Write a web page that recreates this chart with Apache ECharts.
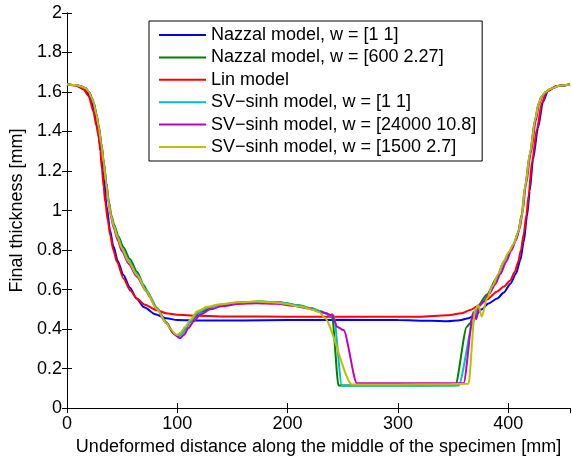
<!DOCTYPE html>
<html>
<head>
<meta charset="utf-8">
<script src="https://cdn.jsdelivr.net/npm/echarts@6.0.0/dist/echarts.min.js"></script>
<style>
html, body { margin: 0; padding: 0; background: #fff; }
#main { width: 572px; height: 461px; }
</style>
</head>
<body>
<div id="main"></div>
<script>
// series names (legend order)
var names = ['Nazzal model, w = [1 1]', 'Nazzal model, w = [600 2.27]', 'Lin model',
    'SV\u2212sinh model, w = [1 1]', 'SV\u2212sinh model, w = [24000 10.8]', 'SV\u2212sinh model, w = [1500 2.7]'];
var colors = ['#0000ff', '#008000', '#ff0000', '#00bfbf', '#bf00bf', '#bfbf00'];

// [distance mm, thickness mm]
var nazzal11 = [[0,1.638],[8,1.634],[14,1.622],[18,1.6],[21,1.57],[24,1.52],[27,1.44],[30,1.33],[33,1.18],[36,1.02],[39,0.9],[42,0.82],[46,0.745],[51,0.675],[57,0.61],[63,0.555],[70,0.51],[80,0.475],[90,0.455],[100,0.446],[120,0.443],[160,0.444],[200,0.446],[250,0.447],[300,0.446],[330,0.442],[345,0.44],[356,0.445],[364,0.455],[370,0.47],[376,0.5],[382,0.53],[390,0.555],[396,0.585],[402,0.63],[407,0.68],[411,0.75],[414,0.84],[417,0.97],[419.5,1.1],[422.5,1.26],[427,1.42],[431.5,1.55],[436,1.605],[444,1.63],[456,1.638]];

var nazzal600 = [[0,1.638],[8,1.635],[13,1.628],[16.6,1.62],[20,1.6],[22.5,1.57],[24.3,1.543],[26.7,1.488],[28.8,1.425],[31.2,1.34],[33.4,1.244],[35.7,1.14],[38,1.045],[40.3,0.975],[42.7,0.93],[46.5,0.87],[51,0.815],[57,0.755],[63.4,0.69],[69.4,0.625],[75,0.565],[81.6,0.505],[90,0.435],[96.6,0.38],[99.5,0.367],[103,0.38],[107,0.405],[111.8,0.437],[120.8,0.487],[136,0.521],[157,0.535],[175,0.539],[193,0.536],[210,0.52],[222,0.505],[230,0.49],[235,0.48],[238,0.468],[240.2,0.47],[246.2,0.114],[300,0.114],[352,0.116],[362.5,0.412],[365.5,0.43],[369,0.48],[373,0.521],[380.7,0.575],[389.7,0.66],[395.7,0.74],[401,0.79],[405,0.83],[409,0.89],[412.2,0.98],[415.2,1.12],[419.7,1.29],[424.3,1.46],[427.5,1.54],[430.5,1.58],[434,1.6],[438,1.615],[446,1.632],[456,1.638]];

var lin = [[0,1.638],[8,1.633],[15,1.613],[19.6,1.58],[24,1.5],[26.5,1.43],[28.7,1.378],[30.2,1.3],[31.7,1.21],[33.2,1.12],[34.7,1.042],[37,0.95],[39.2,0.874],[42,0.8],[45.3,0.74],[51.3,0.655],[57.4,0.595],[63.4,0.555],[70,0.525],[81.6,0.495],[90,0.48],[100,0.472],[118,0.467],[150,0.464],[200,0.463],[284,0.462],[320,0.463],[345,0.47],[358,0.48],[365.5,0.496],[372,0.515],[380.7,0.55],[390,0.59],[396,0.615],[401.8,0.645],[406,0.69],[409,0.74],[411.5,0.8],[414,0.88],[416.5,0.98],[418.4,1.075],[421.5,1.244],[426,1.412],[430.5,1.546],[435,1.605],[444,1.63],[456,1.638]];

var sv11 = [[0,1.638],[8,1.635],[13,1.628],[16.6,1.62],[20,1.6],[22.5,1.57],[24.2,1.545],[26.6,1.49],[28.7,1.427],[31.1,1.34],[33.3,1.244],[35.6,1.14],[37.8,1.043],[40.1,0.972],[42.4,0.926],[46.2,0.865],[50,0.81],[56,0.745],[63.4,0.678],[72,0.598],[81.6,0.505],[90,0.43],[96,0.382],[101,0.36],[104,0.372],[108,0.405],[112,0.44],[118,0.48],[127,0.508],[139,0.522],[155,0.533],[175,0.538],[193,0.535],[210,0.52],[222,0.505],[230,0.49],[235,0.48],[238,0.468],[241.7,0.47],[249.2,0.114],[300,0.114],[355,0.115],[368.5,0.437],[372,0.5],[376,0.53],[380.7,0.56],[386,0.62],[391,0.675],[395.7,0.735],[400,0.78],[404.8,0.83],[409,0.89],[412.4,0.975],[415.4,1.125],[419.9,1.293],[424.5,1.46],[427.5,1.54],[430.5,1.58],[434,1.6],[438,1.615],[446,1.632],[456,1.638]];

var sv24000 = [[0,1.638],[8,1.635],[13,1.628],[16.6,1.62],[20,1.6],[22.5,1.57],[24.1,1.546],[26.5,1.49],[28.6,1.428],[31,1.34],[33.2,1.244],[35.5,1.14],[37.7,1.042],[40,0.965],[42.2,0.915],[46,0.85],[49.8,0.795],[56,0.73],[63.4,0.665],[72,0.59],[81.6,0.5],[90,0.43],[97,0.375],[102.5,0.353],[106,0.37],[110,0.405],[115,0.44],[121,0.475],[130,0.5],[140,0.515],[155,0.527],[172,0.531],[190,0.528],[205,0.518],[218,0.505],[229.6,0.487],[235.7,0.479],[238.7,0.47],[240.5,0.475],[242,0.45],[244.7,0.412],[250.7,0.395],[262.8,0.126],[300,0.126],[359.5,0.126],[368.5,0.487],[371,0.45],[374,0.52],[378,0.54],[383,0.58],[388,0.625],[393,0.68],[398,0.74],[403,0.8],[407,0.85],[410.5,0.91],[413,0.99],[416,1.13],[420.5,1.29],[425,1.455],[428,1.54],[431,1.58],[434.5,1.6],[438.5,1.615],[446,1.632],[456,1.638]];

var sv1500 = [[0,1.638],[8,1.635],[13,1.628],[16.6,1.62],[20,1.6],[22.5,1.57],[24.1,1.546],[26.5,1.49],[28.6,1.428],[31,1.34],[33.2,1.244],[35.5,1.14],[37.7,1.042],[40,0.97],[42.2,0.924],[46,0.862],[49.8,0.807],[56,0.74],[63.4,0.672],[72,0.59],[81.6,0.5],[90,0.43],[94,0.4],[98,0.375],[100,0.37],[103,0.38],[107,0.41],[112,0.448],[118,0.49],[127,0.513],[139,0.526],[155,0.536],[172,0.539],[185,0.536],[196,0.53],[211.5,0.514],[223.5,0.497],[229,0.485],[233,0.46],[258.3,0.12],[300,0.12],[340,0.121],[364,0.123],[370,0.5],[373,0.52],[376,0.462],[380.7,0.555],[386,0.62],[391,0.68],[395.7,0.74],[400,0.785],[404.8,0.83],[409,0.89],[412.4,0.974],[415.4,1.126],[419.9,1.294],[424.5,1.462],[427.5,1.54],[430.5,1.58],[434,1.6],[438,1.615],[446,1.632],[456,1.638]];

var allData = [nazzal11, nazzal600, lin, sv11, sv24000, sv1500];

var font = 'Liberation Sans, Arial, Helvetica, sans-serif';
var myChart = echarts.init(document.getElementById('main'));

myChart.setOption({
    animation: false,
    backgroundColor: '#fff',
    grid: { left: 67, right: 2, top: 13, bottom: 51 },
    legend: {
        orient: 'vertical',
        left: 149,
        top: 21,
        padding: [5, 6, 5, 10],
        icon: 'rect',
        itemWidth: 47,
        itemHeight: 2,
        itemGap: 4.4,
        backgroundColor: '#fff',
        borderColor: '#000',
        borderWidth: 1,
        textStyle: { fontSize: 18, lineHeight: 18, fontFamily: font, color: '#000' },
        data: names
    },
    xAxis: [{
        type: 'value',
        min: 0, max: 456, interval: 100,
        name: 'Undeformed distance along the middle of the specimen [mm]',
        nameLocation: 'middle',
        nameGap: 26,
        nameTextStyle: { fontSize: 18, fontFamily: font, color: '#000' },
        axisLine: { lineStyle: { color: '#000', width: 1 } },
        axisTick: { inside: true, length: 5, lineStyle: { color: '#000' } },
        axisLabel: { fontSize: 18, fontFamily: font, color: '#000', margin: 7, showMaxLabel: false },
        splitLine: { show: false }
    }, {
        type: 'value', position: 'top',
        min: 0, max: 456, interval: 100,
        axisLine: { lineStyle: { color: '#000', width: 1 } },
        axisTick: { inside: true, length: 5, lineStyle: { color: '#000' } },
        axisLabel: { show: false },
        splitLine: { show: false }
    }],
    yAxis: [{
        type: 'value',
        min: 0, max: 2, interval: 0.2,
        name: 'Final thickness [mm]',
        nameLocation: 'middle',
        nameGap: 37,
        nameTextStyle: { fontSize: 18, fontFamily: font, color: '#000' },
        axisLine: { show: true, lineStyle: { color: '#000', width: 1 } },
        axisTick: { show: true, inside: true, length: 5, lineStyle: { color: '#000' } },
        axisLabel: { fontSize: 18, fontFamily: font, color: '#000', margin: 5 },
        splitLine: { show: false }
    }, {
        type: 'value', position: 'right',
        min: 0, max: 2, interval: 0.2,
        axisLine: { show: true, lineStyle: { color: '#000', width: 1 } },
        axisTick: { show: true, inside: true, length: 5, lineStyle: { color: '#000' } },
        axisLabel: { show: false },
        splitLine: { show: false }
    }],
    series: names.map(function (n, i) {
        return {
            name: n,
            type: 'line',
            data: allData[i],
            symbol: 'none',
            smooth: 0.25,
            smoothMonotone: 'x',
            color: colors[i],
            lineStyle: { width: 2, color: colors[i] }
        };
    })
});
</script>
</body>
</html>
